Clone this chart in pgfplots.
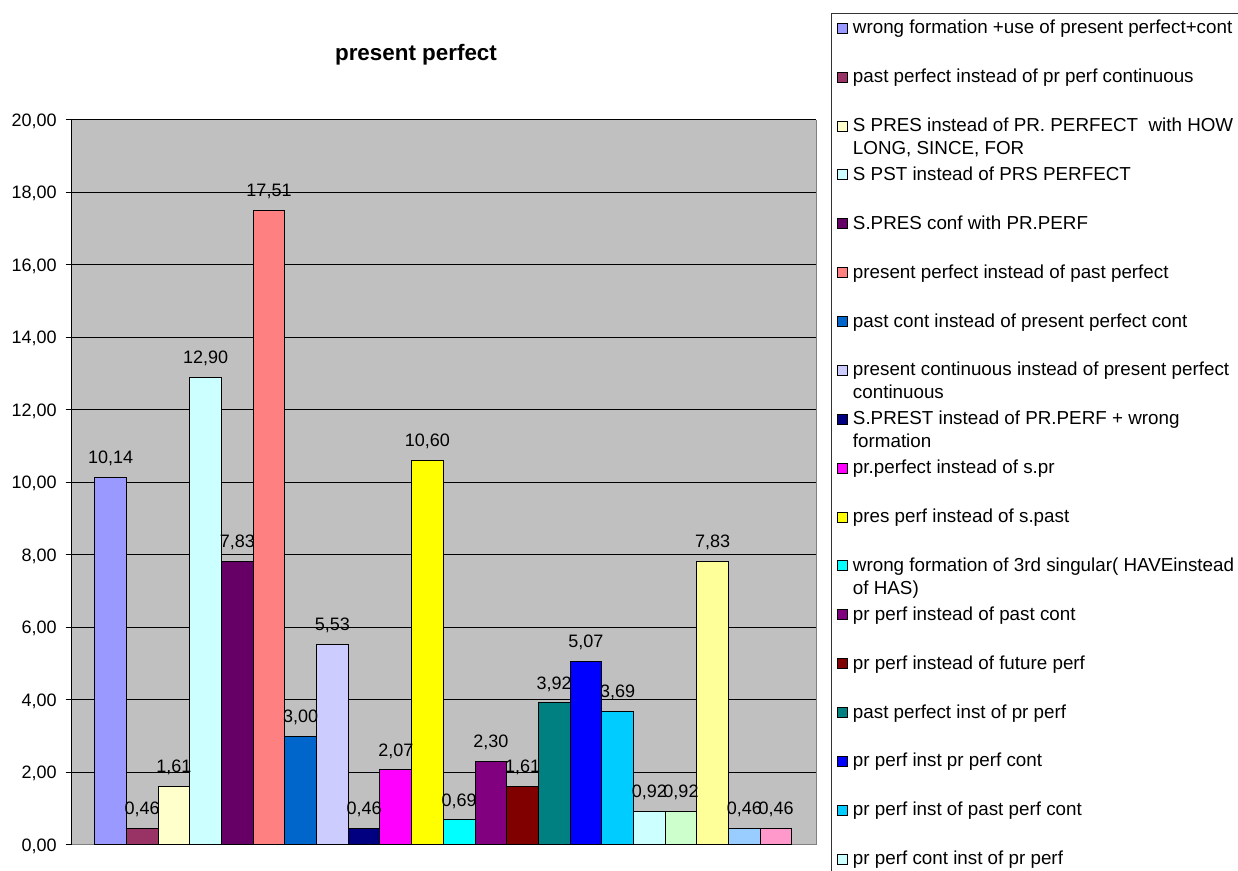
\documentclass[border=0pt]{standalone}
\usepackage{fontspec}
\setmainfont{Liberation Sans}
\usepackage{pgfplots}
\usepackage{pgfplotstable}
\pgfplotsset{compat=1.18}
\pgfkeys{/pgf/number format/assume math mode=true}
\frenchspacing

% Excel-style series palette
\definecolor{c0}{HTML}{9999FF}
\definecolor{c1}{HTML}{993366}
\definecolor{c2}{HTML}{FFFFCC}
\definecolor{c3}{HTML}{CCFFFF}
\definecolor{c4}{HTML}{660066}
\definecolor{c5}{HTML}{FF8080}
\definecolor{c6}{HTML}{0066CC}
\definecolor{c7}{HTML}{CCCCFF}
\definecolor{c8}{HTML}{000080}
\definecolor{c9}{HTML}{FF00FF}
\definecolor{c10}{HTML}{FFFF00}
\definecolor{c11}{HTML}{00FFFF}
\definecolor{c12}{HTML}{800080}
\definecolor{c13}{HTML}{800000}
\definecolor{c14}{HTML}{008080}
\definecolor{c15}{HTML}{0000FF}
\definecolor{c16}{HTML}{00CCFF}
\definecolor{c17}{HTML}{CCFFFF}
\definecolor{c18}{HTML}{CCFFCC}
\definecolor{c19}{HTML}{FFFF99}
\definecolor{c20}{HTML}{99CCFF}
\definecolor{c21}{HTML}{FF99CC}
\definecolor{plotbg}{HTML}{C0C0C0}

% share of each error type (%)
\pgfplotstableread{
idx val
0 10.14
1 0.46
2 1.61
3 12.90
4 7.83
5 17.51
6 3.00
7 5.53
8 0.46
9 2.07
10 10.60
11 0.69
12 2.30
13 1.61
14 3.92
15 5.07
16 3.69
17 0.92
18 0.92
19 7.83
20 0.46
21 0.46
}\errtable

\newcommand\lgentry[1]{\parbox[t]{230pt}{\fontsize{9.4}{11.5}\selectfont\rule{0pt}{7pt}#1}}
\pgfplotsset{sqlegend/.style={legend image code/.code={\draw[##1, line width=0.5pt] (0pt,-2.5pt) rectangle (5pt,2.5pt);}}}

\begin{document}
\begin{tikzpicture}
\useasboundingbox (0,0) rectangle (619pt,435.5pt);
\clip (0,0) rectangle (619pt,435.5pt);
\begin{axis}[
  at={(35.85pt,13pt)}, anchor=south west,
  scale only axis, width=372.15pt, height=362.5pt,
  xmin=-1.226, xmax=22.26, ymin=0, ymax=20,
  xtick=\empty,
  ytick={0,2,...,20},
  scaled ticks=false,
  ymajorgrids, major grid style={black, line width=0.5pt},
  axis line style={draw=none},
  tick align=outside, major tick length=3pt, ytick pos=left,
  ytick style={draw=black, line width=0.5pt},
  yticklabel={\pgfmathprintnumber[fixed,fixed zerofill,precision=2,use comma]{\tick}},
  yticklabel style={font=\fontsize{9}{10}\selectfont, anchor=base east, inner sep=0pt, yshift=-3.2pt, xshift=-4.35pt},
  axis background/.style={fill=plotbg},
  clip=false,
  legend cell align=left,
  legend style={at={(1.0197,1.1472)}, anchor=north west, draw=black!80, line width=0.5pt, fill=white,
    inner xsep=3pt, inner ysep=3pt, row sep=15.94pt, column sep=2.4pt, nodes={inner sep=0pt}},
]
% plot-area frame: grey bottom and right, black value axis
\draw[black!50, line width=0.5pt] (rel axis cs:0,0) -- (rel axis cs:1,0) -- (rel axis cs:1,1);
\draw[black, line width=0.5pt] (rel axis cs:0,0) -- (rel axis cs:0,1);

% value labels (sit underneath the bars)
\addplot[draw=none, mark=none, forget plot,
  nodes near coords={\pgfmathprintnumber[fixed,fixed zerofill,precision=2,use comma]{\pgfplotspointmeta}},
  nodes near coords style={font=\fontsize{9}{10}\selectfont, anchor=base, inner sep=0pt, yshift=6.9pt, text=black}]
  table[x=idx, y=val] {\errtable};

% one bar per error type
\pgfplotsinvokeforeach{0,...,21}{
  \addplot[ybar, bar width=1, bar shift=0pt, fill=c#1, draw=black, line width=0.5pt, sqlegend,
    restrict x to domain=#1:#1] table[x=idx, y=val] {\errtable};
}

\legend{
  {\lgentry{wrong formation +use of present perfect+cont}},
  {\lgentry{past perfect instead of pr perf continuous}},
  {\lgentry{S PRES instead of PR. PERFECT~ with HOW\\LONG, SINCE, FOR}},
  {\lgentry{S PST instead of PRS PERFECT}},
  {\lgentry{S.PRES conf with PR.PERF}},
  {\lgentry{present perfect instead of past perfect}},
  {\lgentry{past cont instead of present perfect cont}},
  {\lgentry{present continuous instead of present perfect\\continuous}},
  {\lgentry{S.PREST instead of PR.PERF + wrong\\formation}},
  {\lgentry{pr.perfect instead of s.pr}},
  {\lgentry{pres perf instead of s.past}},
  {\lgentry{wrong formation of 3rd singular( HAVEinstead\\of HAS)}},
  {\lgentry{pr perf instead of past cont}},
  {\lgentry{pr perf instead of future perf}},
  {\lgentry{past perfect inst of pr perf}},
  {\lgentry{pr perf inst pr perf cont}},
  {\lgentry{pr perf inst of past perf cont}},
  {\lgentry{pr perf cont inst of pr perf}}
}
\end{axis}
\node[font=\bfseries\fontsize{11.2}{12}\selectfont, anchor=base] at (208pt,405pt) {present perfect};
\end{tikzpicture}
\end{document}
